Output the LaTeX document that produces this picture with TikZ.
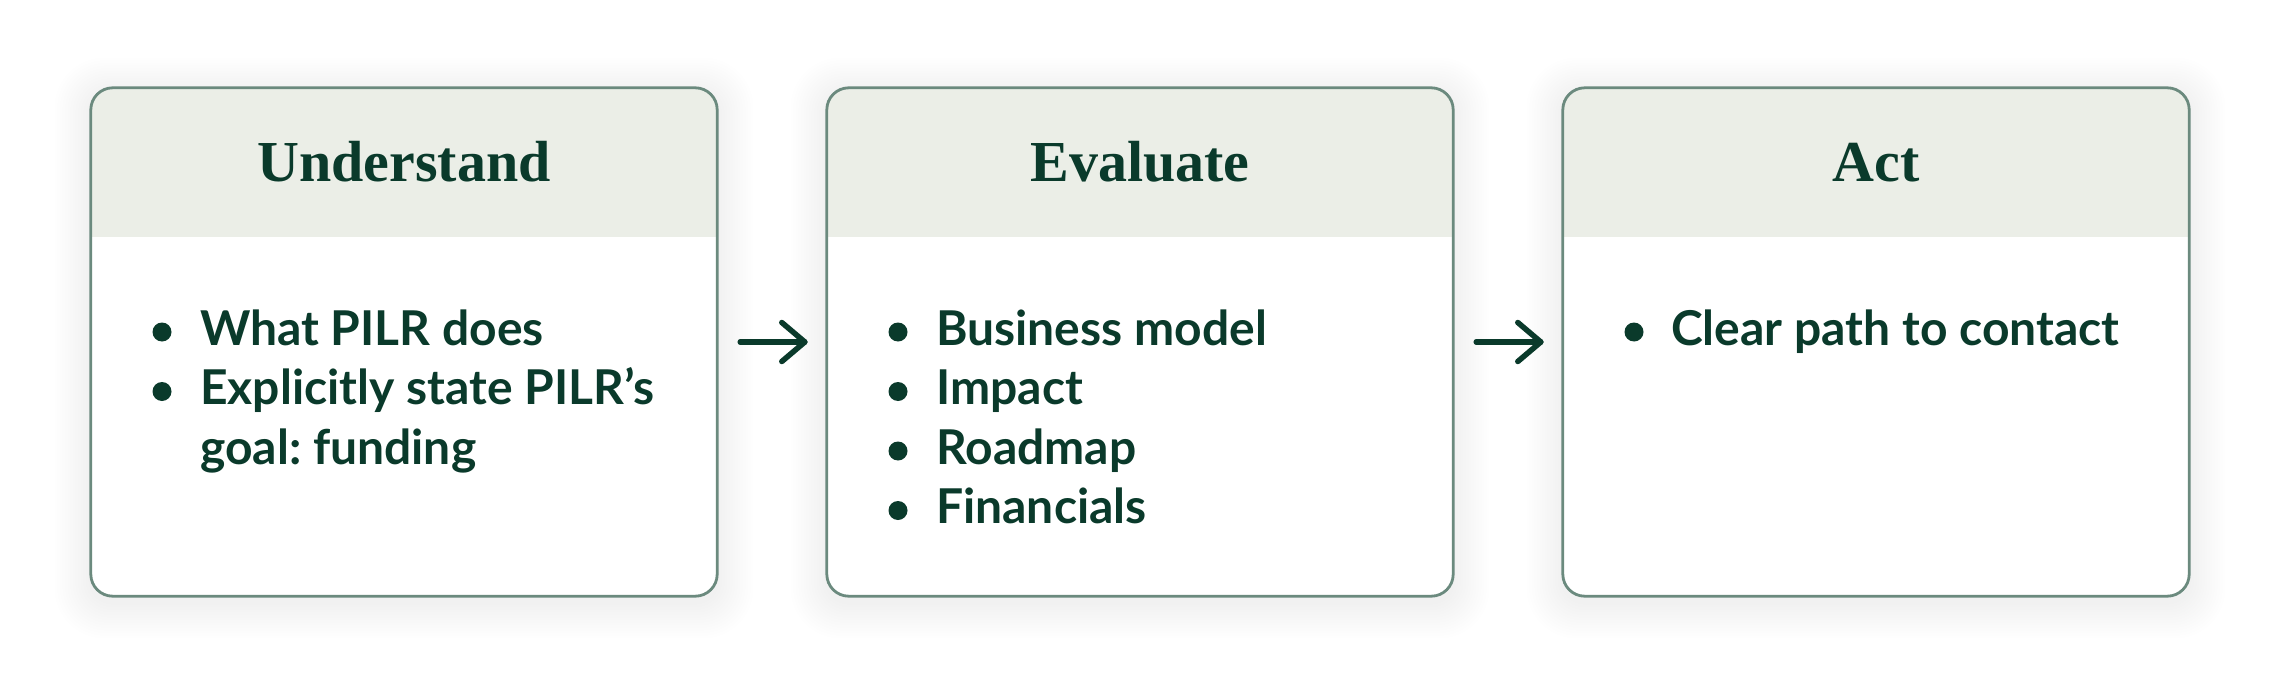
\documentclass[tikz,border=0pt]{standalone}
\usepackage{fontspec}
\usetikzlibrary{arrows.meta,calc}
\newfontfamily\headfont{Liberation Serif}
\newfontfamily\bodyfont{Lato}
\definecolor{ink}{HTML}{0A3A2B}
\definecolor{frame}{HTML}{6B8A7E}
\definecolor{headfill}{HTML}{EBEEE7}
\frenchspacing
\tikzset{
  card/.style={rectangle, inner sep=0pt, minimum width=626pt, minimum height=508pt, rounded corners=22pt, fill=white},
  border/.style={draw=frame, line width=2.8pt, rounded corners=22pt},
  headtxt/.style={inner sep=0pt, text=ink, font=\headfont\bfseries\fontsize{58}{60}\selectfont},
  itemtxt/.style={inner sep=0pt, text=ink, font=\bodyfont\bfseries\fontsize{48}{60}\selectfont},
  dot/.style={circle, fill=ink, inner sep=0pt, minimum size=19pt},
  flow/.style={draw=ink, line width=5.5pt, line cap=round, line join=round},
}
\begin{document}
\begin{tikzpicture}[x=1pt,y=-1pt]
\useasboundingbox[fill=white] (0,0) rectangle (2280,690);
% soft shadows
\foreach \cx in {404,1140,1876}{
  \foreach \k in {1,...,14}{
    \fill[black, opacity=0.0025, rounded corners=22+2*\k]
      (\cx-313-2.6*\k, 88-2.6*\k+6) rectangle (\cx+313+2.6*\k, 596+2.6*\k+6);
  }
}
% cards
\node[card] (u) at (404,342) {};
\node[card] (e) at (1140,342) {};
\node[card] (a) at (1876,342) {};
\foreach \n in {u,e,a}{
  \begin{scope}
    \clip[rounded corners=22pt] (\n.south west) rectangle (\n.north east);
    \fill[headfill] (\n.north west) rectangle ($(\n.north east)+(0,149)$);
  \end{scope}
  \draw[border] (\n.south west) rectangle (\n.north east);
}
% headers
\node[headtxt, anchor=base] (uh) at (404,181) {Understand};
\node[headtxt, anchor=base] (eh) at (1140,181) {Evaluate};
\node[headtxt, anchor=base] (ah) at (1876,181) {Act};
% Understand items
\node[dot] (ud1) at (162,332) {};
\node[itemtxt, anchor=base west] (ut1) at (200,345) {What PILR does};
\node[dot] (ud2) at (162,391.5) {};
\node[itemtxt, anchor=base west] (ut2) at (200,404.5) {Explicitly state PILR’s};
\node[itemtxt, anchor=base west] (ut2b) at (200,464) {goal: funding};
% Evaluate items
\node[dot] (ed1) at (898,332) {};
\node[itemtxt, anchor=base west] (et1) at (936,345) {Business model};
\node[dot] (ed2) at (898,391.5) {};
\node[itemtxt, anchor=base west] (et2) at (936,404.5) {Impact};
\node[dot] (ed3) at (898,451) {};
\node[itemtxt, anchor=base west] (et3) at (936,464) {Roadmap};
\node[dot] (ed4) at (898,510.5) {};
\node[itemtxt, anchor=base west] (et4) at (936,523.5) {Financials};
% Act items
\node[dot] (ad1) at (1634,332) {};
\node[itemtxt, anchor=base west] (at1) at (1671,345) {Clear path to contact};
% arrows
\foreach \s/\t in {u/e,e/a}{
  \coordinate (\s p) at ([xshift=23pt]\s.east);
  \coordinate (\s q) at ([xshift=-22pt]\t.west);
  \draw[flow] (\s p) -- (\s q);
  \draw[flow] ([xshift=-23pt,yshift=19.5pt]\s q) -- (\s q) -- ([xshift=-23pt,yshift=-19.5pt]\s q);
}
\end{tikzpicture}
\end{document}
